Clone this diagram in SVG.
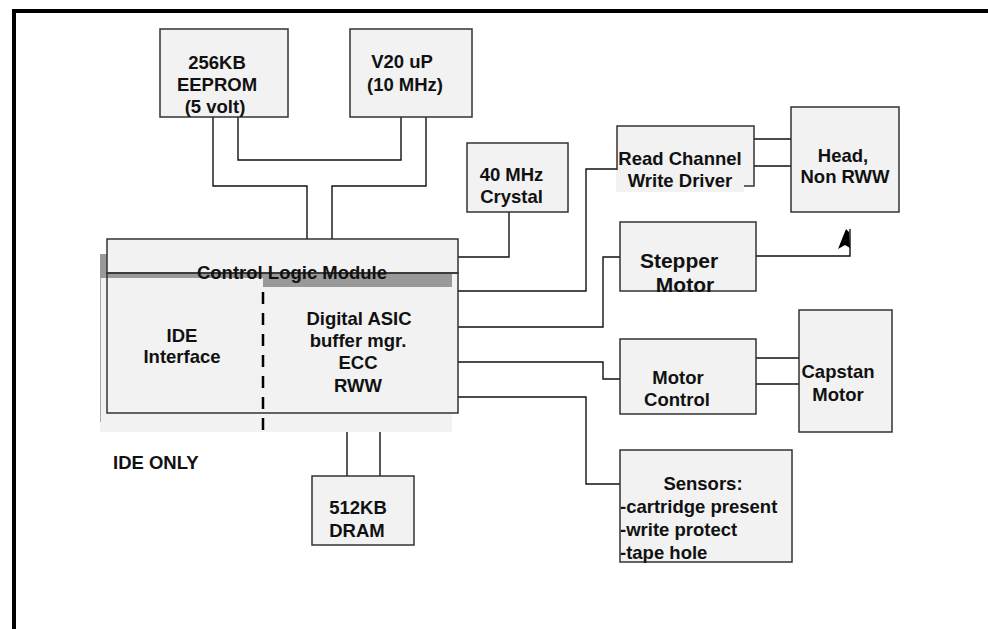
<svg xmlns="http://www.w3.org/2000/svg" width="988" height="629" viewBox="0 0 988 629">
<style>
.box{fill:#f2f2f2;stroke:#333;stroke-width:1.5}
.bg{fill:#f2f2f2;stroke:none}
.ln{fill:none;stroke:#111;stroke-width:1.4}
text{font-family:"Liberation Sans",Arial,sans-serif;font-weight:bold;font-size:18.5px;fill:#111}
.m{text-anchor:middle}
.big{font-size:21px}
</style>
<rect x="0" y="0" width="988" height="629" fill="#fff"/>
<g id="frame">
<line x1="12" y1="11" x2="988" y2="11" stroke="#000" stroke-width="4"/>
<line x1="14" y1="9" x2="14" y2="629" stroke="#000" stroke-width="4"/>
</g>
<g id="connectors">
<path class="ln" d="M213 117V186H307V239"/>
<path class="ln" d="M238 117V160H401V117"/>
<path class="ln" d="M426 117V186H332V239"/>
<path class="ln" d="M509 212V257H458"/>
<path class="ln" d="M458 291H586V169H617"/>
<path class="ln" d="M458 327H603V257H620"/>
<path class="ln" d="M756 256H850V229"/>
<polygon points="846,229 838,249 845,245 850,248 849,232" fill="#000"/>
<path class="ln" d="M458 362H603V379H620"/>
<path class="ln" d="M458 397H586V484H620"/>
<path class="ln" d="M754 139H791M754 166H791"/>
<path class="ln" d="M756 358H799M756 384H799"/>
<path class="ln" d="M347 432V476M380 432V476"/>
</g>
<g id="control-logic-module">
<rect x="107" y="273" width="351" height="140" class="bg"/>
<rect x="100" y="254" width="352" height="33" fill="#999"/>
<rect x="100" y="278" width="163" height="154" class="bg"/>
<line x1="100.5" y1="278" x2="100.5" y2="422" stroke="#aaa" stroke-width="1"/>
<rect x="263" y="287" width="189" height="145" class="bg"/>
<rect x="107" y="239" width="351" height="34" class="box"/>
<rect x="107" y="273" width="351" height="140" fill="none" stroke="#333" stroke-width="1.5"/>
<line x1="263" y1="292" x2="263" y2="432" stroke="#000" stroke-width="2.5" stroke-dasharray="12 9"/>
<text class="m" x="292" y="279">Control Logic Module</text>
<text class="m" x="182" y="342">IDE</text>
<text class="m" x="182" y="363">Interface</text>
<text class="m" x="359" y="325">Digital ASIC</text>
<text class="m" x="358" y="347">buffer mgr.</text>
<text class="m" x="358" y="369">ECC</text>
<text class="m" x="358" y="392">RWW</text>
</g>
<g id="eeprom">
<rect x="160" y="29" width="128" height="88" class="box"/>
<text class="m" x="217" y="69">256KB</text>
<text class="m" x="217" y="91">EEPROM</text>
<text class="m" x="215" y="113">(5 volt)</text>
</g>
<g id="v20">
<rect x="350" y="29" width="122" height="88" class="box"/>
<text class="m" x="402" y="68">V20 uP</text>
<text class="m" x="405" y="91">(10 MHz)</text>
</g>
<g id="crystal">
<rect x="467" y="143" width="101" height="69" class="box"/>
<text class="m" x="511.5" y="181">40 MHz</text>
<text class="m" x="511.5" y="203">Crystal</text>
</g>
<g id="read-channel">
<rect x="617" y="126" width="137" height="60" class="box"/>
<rect x="616" y="170" width="128" height="22" class="bg"/>
<text class="m" x="680" y="165">Read Channel</text>
<text class="m" x="680" y="187">Write Driver</text>
</g>
<g id="head">
<rect x="791" y="107" width="108" height="105" class="box"/>
<text class="m" x="843" y="162">Head,</text>
<text class="m" x="845" y="183">Non RWW</text>
</g>
<g id="stepper">
<rect x="620" y="222" width="136" height="69" class="box"/>
<text class="m big" x="679" y="268">Stepper</text>
<text class="m big" x="685" y="292">Motor</text>
</g>
<g id="motor-control">
<rect x="620" y="339" width="136" height="75" class="box"/>
<text class="m" x="678" y="384">Motor</text>
<text class="m" x="677" y="406">Control</text>
</g>
<g id="capstan">
<rect x="799" y="310" width="93" height="122" class="box"/>
<text class="m" x="838" y="378">Capstan</text>
<text class="m" x="838" y="401">Motor</text>
</g>
<g id="sensors">
<rect x="620" y="450" width="172" height="112" class="box"/>
<text class="m" x="703" y="490">Sensors:</text>
<text x="620" y="513">-cartridge present</text>
<text x="620" y="536">-write protect</text>
<text x="620" y="559">-tape hole</text>
</g>
<g id="dram">
<rect x="312" y="476" width="102" height="69" class="box"/>
<text class="m" x="358" y="514">512KB</text>
<text class="m" x="357" y="537">DRAM</text>
</g>
<g id="ide-only">
<text x="113" y="469">IDE ONLY</text>
</g>
</svg>
